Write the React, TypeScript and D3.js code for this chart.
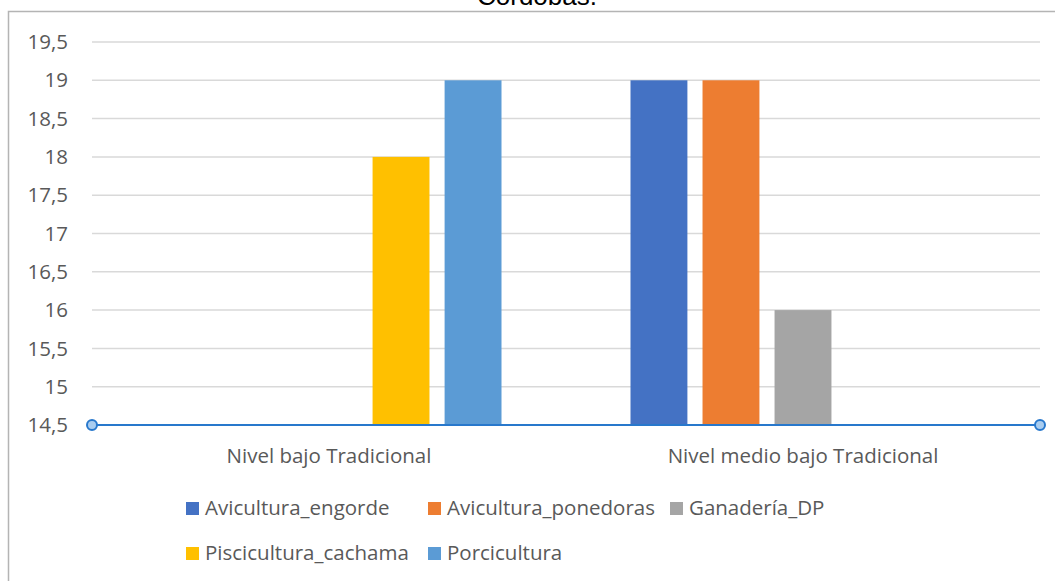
import React from "react";
import * as d3 from "d3";

const categories = ["Nivel bajo Tradicional", "Nivel medio bajo Tradicional"];
const seriesNames = [
  "Avicultura_engorde",
  "Avicultura_ponedoras",
  "Ganadería_DP",
  "Piscicultura_cachama",
  "Porcicultura",
];
const seriesColors = ["#4472C4", "#ED7D31", "#A5A5A5", "#FFC000", "#5B9BD5"];
// values per series, per category (null = no bar)
const aviculturaEngorde: (number | null)[] = [null, 19];
const aviculturaPonedoras: (number | null)[] = [null, 19];
const ganaderiaDP: (number | null)[] = [null, 16];
const pisciculturaCachama: (number | null)[] = [18, null];
const porcicultura: (number | null)[] = [19, null];
const seriesValues = [aviculturaEngorde, aviculturaPonedoras, ganaderiaDP, pisciculturaCachama, porcicultura];
const yTicks = [14.5, 15, 15.5, 16, 16.5, 17, 17.5, 18, 18.5, 19, 19.5];
const titleText = "Córdobas.";

const W = 1055;
const H = 581;
const plotL = 92;
const plotR = 1040;
const plotT = 42;
const plotB = 425;
const FONT = "'Open Sans', sans-serif";
const TEXT = "#595959";
const FS = 20.5;

export default function App() {
  const y = d3.scaleLinear().domain([14.5, 19.5]).range([plotB, plotT]);
  const x0 = d3.scaleBand<string>().domain(categories).range([plotL, plotR]).padding(0);
  const groupPad = 64.5;
  const x1 = d3
    .scaleBand<string>()
    .domain(seriesNames)
    .range([groupPad, x0.bandwidth() - groupPad])
    .paddingInner(0.21)
    .paddingOuter(0);
  const fmt = (v: number) => String(v).replace(".", ",");
  const legendColW = 242;
  const legendX = 186;
  const legendRows = [508, 553];

  return (
    <svg
      width={W}
      height={H}
      style={{ position: "absolute", left: 0, top: 0, background: "#fff" }}
      fontFamily={FONT}
    >
      <rect x={0} y={0} width={W} height={H} fill="#fff" />
      {/* chart border */}
      <path d={`M8.5,${H + 5} L8.5,11.5 L${W + 5},11.5`} fill="none" stroke="#B4B4B4" strokeWidth={1.5} />
      <text x={537} y={5} textAnchor="middle" fontFamily="'Liberation Sans', Arial, sans-serif" fontSize={26} fill="#000">
        {titleText}
      </text>
      {/* gridlines */}
      {yTicks.map((t) =>
        t === 14.5 ? null : (
          <line key={t} x1={plotL} x2={plotR} y1={y(t)} y2={y(t)} stroke="#D9D9D9" strokeWidth={1.5} />
        )
      )}
      {/* y tick labels */}
      {yTicks.map((t) => (
        <text key={t} x={68} y={y(t)} dy="0.35em" textAnchor="end" fontSize={FS} fill={TEXT}>
          {fmt(t)}
        </text>
      ))}
      {/* bars */}
      {categories.map((c, ci) => (
        <g key={c} transform={`translate(${x0(c)},0)`}>
          {seriesNames.map((s, si) => {
            const v = seriesValues[si][ci];
            if (v == null) return null;
            return (
              <rect
                key={s}
                x={x1(s)}
                y={y(v)}
                width={x1.bandwidth()}
                height={y(14.5) - y(v)}
                fill={seriesColors[si]}
              />
            );
          })}
        </g>
      ))}
      {/* baseline axis with markers */}
      <line x1={plotL} x2={plotR} y1={y(14.5)} y2={y(14.5)} stroke="#2878CC" strokeWidth={2} />
      {[plotL, plotR].map((cx) => (
        <circle key={cx} cx={cx} cy={y(14.5)} r={5} fill="#A9CDF0" stroke="#2878CC" strokeWidth={2} />
      ))}
      {/* category labels */}
      {categories.map((c) => (
        <text key={c} x={(x0(c) as number) + x0.bandwidth() / 2} y={456} dy="0.35em" textAnchor="middle" fontSize={FS} fill={TEXT}>
          {c}
        </text>
      ))}
      {/* legend */}
      {seriesNames.map((s, i) => {
        const row = i < 3 ? 0 : 1;
        const col = i < 3 ? i : i - 3;
        const lx = legendX + col * legendColW;
        const ly = legendRows[row];
        return (
          <g key={s}>
            <rect x={lx} y={ly - 6} width={13} height={13} fill={seriesColors[i]} />
            <text x={lx + 19} y={ly} dy="0.35em" fontSize={FS} fill={TEXT}>
              {s}
            </text>
          </g>
        );
      })}
    </svg>
  );
}
